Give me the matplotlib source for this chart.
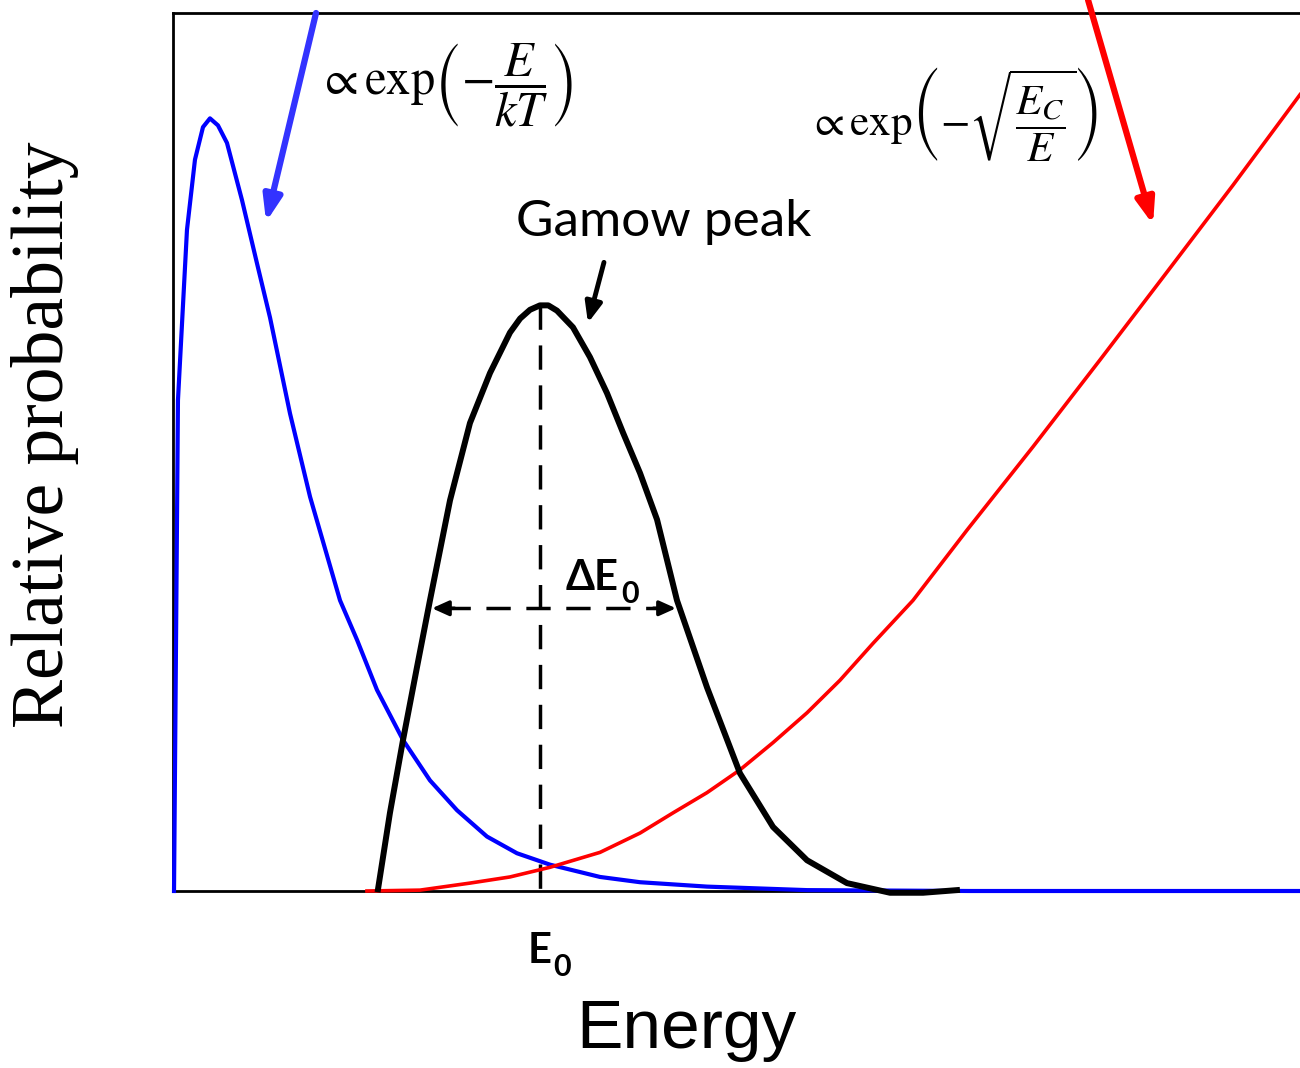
import matplotlib
matplotlib.use("Agg")
import matplotlib.pyplot as plt

plt.rcParams["mathtext.fontset"] = "stix"

# Maxwell-Boltzmann distribution (blue)
mb_energy = [0.009, 0.027, 0.044, 0.124, 0.195, 0.266, 0.328, 0.399, 0.479, 0.612,
             0.745, 0.861, 1.038, 1.216, 1.482, 1.633, 1.810, 2.041, 2.280, 2.520,
             2.786, 3.052, 3.345, 3.789, 4.144, 4.738, 5.626, 7.072, 10.0]
mb_prob = [0.0, 0.286, 0.559, 0.753, 0.833, 0.870, 0.880, 0.872, 0.852, 0.787,
           0.715, 0.653, 0.544, 0.449, 0.331, 0.286, 0.229, 0.172, 0.126, 0.092,
           0.062, 0.043, 0.030, 0.016, 0.010, 0.005, 0.001, 0.0, 0.0]

# tunnelling probability (red)
tun_energy = [1.721, 2.192, 2.635, 2.990, 3.345, 3.789, 4.144, 4.437, 4.738, 5.031,
              5.324, 5.626, 5.918, 6.211, 6.566, 7.045, 7.631, 8.226, 8.820, 9.406, 10.0]
tun_prob = [0.0, 0.001, 0.009, 0.016, 0.027, 0.044, 0.066, 0.089, 0.112, 0.138,
            0.169, 0.203, 0.240, 0.282, 0.331, 0.411, 0.506, 0.605, 0.705, 0.804, 0.907]

# Gamow peak (black)
gamow_energy = [1.819, 1.925, 2.041, 2.165, 2.280, 2.458, 2.635, 2.813, 2.990, 3.080,
                3.168, 3.256, 3.330, 3.407, 3.549, 3.700, 3.851, 3.993, 4.144, 4.295,
                4.472, 4.738, 5.031, 5.324, 5.626, 5.980, 6.362, 6.655, 6.956]
gamow_prob = [0.002, 0.089, 0.172, 0.255, 0.331, 0.445, 0.533, 0.590, 0.636, 0.652,
              0.662, 0.667, 0.667, 0.661, 0.642, 0.608, 0.567, 0.522, 0.476, 0.423,
              0.331, 0.232, 0.134, 0.073, 0.035, 0.009, -0.002, -0.002, 0.001]

E0 = 3.256
peak_height = 0.667
dE_left, dE_right, dE_level = 2.298, 4.463, 0.322

fig = plt.figure(figsize=(13, 10.68), dpi=100)
ax = fig.add_axes([173 / 1300, 1 - 891 / 1068, 1 - 173 / 1300, 878 / 1068])
ax.set_xlim(0, 10)
ax.set_ylim(0, 1)
ax.set_xticks([])
ax.set_yticks([])
ax.spines["right"].set_visible(False)
for s in ["left", "top", "bottom"]:
    ax.spines[s].set_linewidth(2.0)
    ax.spines[s].set_zorder(1)

ax.plot(mb_energy, mb_prob, color="#0000ff", lw=3.0, zorder=3, clip_on=False,
        solid_joinstyle="round")
ax.plot(tun_energy, tun_prob, color="#ff0000", lw=2.6, zorder=3, clip_on=False,
        solid_joinstyle="round")
ax.plot(gamow_energy, gamow_prob, color="black", lw=4.3, zorder=4, clip_on=False,
        solid_joinstyle="round")

# E0 marker and width of the peak
ax.plot([E0, E0], [peak_height, -0.008], color="black", lw=2.5,
        dashes=(7, 4.5), zorder=2, clip_on=False)
ax.plot([dE_left + 0.12, dE_right - 0.12], [dE_level, dE_level], color="black",
        lw=2.5, dashes=(7, 4.5), zorder=2)
for tip, tail in [(dE_left, dE_left + 0.2), (dE_right, dE_right - 0.2)]:
    ax.annotate("", xy=(tip, dE_level), xytext=(tail, dE_level),
                arrowprops=dict(arrowstyle="-|>,head_length=1.0,head_width=0.45",
                                color="black", lw=2.5, shrinkA=0, shrinkB=0))

# pointer arrows
ax.annotate("", xy=(0.826, 0.762), xytext=(1.269, 1.0),
            arrowprops=dict(arrowstyle="-|>,head_length=1.5,head_width=0.55",
                            color="#3333ff", lw=4.5, shrinkA=0, shrinkB=0))
ax.annotate("", xy=(8.696, 0.759), xytext=(8.119, 1.015),
            arrowprops=dict(arrowstyle="-|>,head_length=1.5,head_width=0.55",
                            color="#ff0000", lw=4.5, shrinkA=0, shrinkB=0),
            annotation_clip=False)
ax.annotate("", xy=(3.682, 0.647), xytext=(3.824, 0.716),
            arrowprops=dict(arrowstyle="-|>,head_length=1.2,head_width=0.5",
                            color="black", lw=3.5, shrinkA=0, shrinkB=0))

# labels
ax.text(2.41, 0.918, r"$\propto \mathrm{exp}\left(-\dfrac{E}{kT}\right)$",
        fontsize=35, ha="center", va="center")
ax.text(6.92, 0.884, r"$\propto \mathrm{exp}\left(-\sqrt{\dfrac{E_C}{E}}\right)$",
        fontsize=31, ha="center", va="center")
ax.text(4.357, 0.762, "Gamow peak", fontsize=37, family="Lato",
        ha="center", va="center")
ax.text(3.72, 0.356, "ΔE", fontsize=30, family="Lato", weight="bold",
        ha="center", va="center")
ax.text(4.06, 0.338, "0", fontsize=22, family="Lato", weight="bold",
        ha="center", va="center")
ax.text(3.25, -0.068, "E", fontsize=30, family="Lato", weight="bold",
        ha="center", va="center")
ax.text(3.45, -0.086, "0", fontsize=22, family="Lato", weight="bold",
        ha="center", va="center")

fig.text(686 / 1300, 1 - 1030 / 1068, "Energy", fontsize=50,
         family="Liberation Sans", ha="center", va="center")
fig.text(45 / 1300, 1 - 435 / 1068, "Relative probability", fontsize=53,
         family="Liberation Serif", rotation=90, ha="center", va="center")

fig.savefig("out.png", dpi=100)
